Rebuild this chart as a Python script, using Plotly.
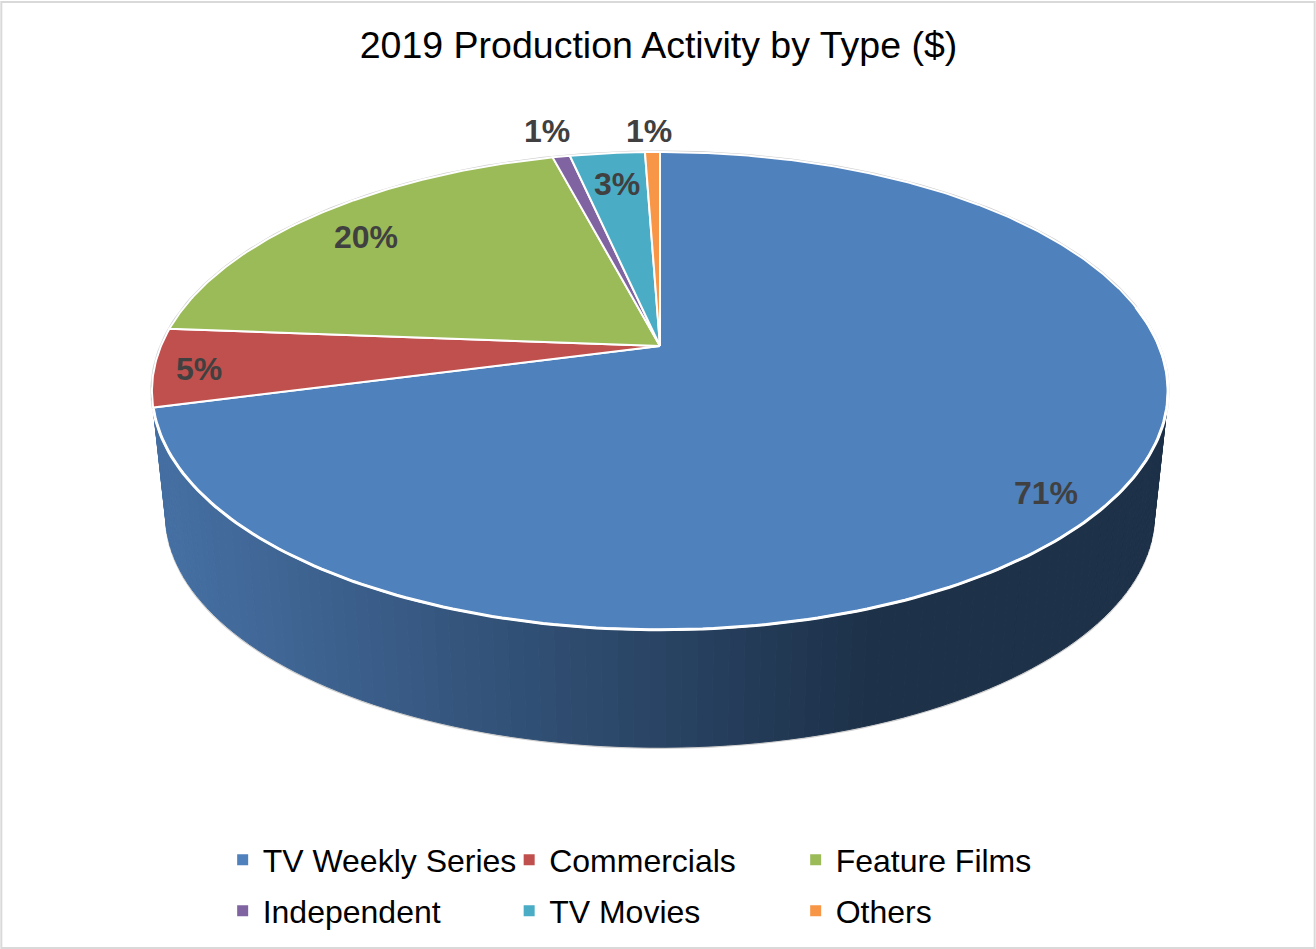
import numpy as np
import plotly.graph_objects as go

# Share of 2019 production spending per type, in percent
categories = ["TV Weekly Series", "Commercials", "Feature Films", "Independent", "TV Movies", "Others"]
shares = [70.9, 5.3, 19.7, 0.66, 2.86, 0.57]
slice_colors = ["#4F81BD", "#C0504D", "#9BBB59", "#8064A2", "#4BACC6", "#F79646"]
title_text = "2019 Production Activity by Type ($)"

# Where each percentage label sits on the canvas
label_x = [1046, 199, 366, 547, 617, 649]
label_y = [493, 369, 237, 131, 184, 131]

# Perspective disc: hub position, horizontal and vertical scale, foreshortening
HUB_X, HUB_Y = 660.0, 346.0
SCALE_X, SCALE_Y, TILT = 499.0, 230.5, 0.188
# Lower rim of the cylinder: shrink factor and downward drop
RIM_SHRINK, RIM_DROP = 0.973, 125.0


def disc(theta_deg, shrink=1.0, drop=0.0):
    """Project clockwise-from-top angles on the disc to canvas coordinates."""
    t = np.radians(np.asarray(theta_deg, dtype=float))
    u, v = np.sin(t), np.cos(t)
    w = 1 + TILT * v
    return HUB_X + shrink * SCALE_X * u / w, HUB_Y - shrink * SCALE_Y * v / w + drop


def wall_color(x):
    """Side wall darkens from left to right, then stays flat."""
    f = np.clip((x - 165.0) / (870.0 - 165.0), 0, 1)
    a, b = np.array([0x45, 0x6F, 0xA2]), np.array([0x1D, 0x31, 0x49])
    r, g, bl = (a + (b - a) * f).round().astype(int)
    return f"rgb({r},{g},{bl})"


fig = go.Figure()

# Thin grey halo around the back of the disc and the bottom of the wall
ring = np.arange(0, 360.5, 1.0)
rx, ry = disc(ring)
fig.add_trace(go.Scatter(x=rx, y=ry, mode="lines", line=dict(color="#CFCFCF", width=3),
                         hoverinfo="skip", showlegend=False))
front = np.arange(60, 300.5, 1.0)
bx, by = disc(front, RIM_SHRINK, RIM_DROP)
fig.add_trace(go.Scatter(x=bx, y=by + 0.8, mode="lines", line=dict(color="#CFCFCF", width=2),
                         hoverinfo="skip", showlegend=False))

# Side wall as narrow strips, each with its own shade
step = 1.5
for a in np.arange(70, 290, step):
    pair = np.array([a, a + step])
    tx, ty = disc(pair)
    lx, ly = disc(pair, RIM_SHRINK, RIM_DROP)
    col = wall_color(tx.mean())
    fig.add_trace(go.Scatter(
        x=[tx[0], tx[1], lx[1], lx[0], tx[0]], y=[ty[0], ty[1], ly[1], ly[0], ty[0]],
        mode="lines", fill="toself", fillcolor=col, line=dict(color=col, width=1),
        hoverinfo="skip", showlegend=False))

# Top face wedges, clockwise from twelve o'clock
total = sum(shares)
edges = np.concatenate([[0], np.cumsum(shares) / total * 360])
for name, val, col, a0, a1 in zip(categories, shares, slice_colors, edges[:-1], edges[1:]):
    arc = np.linspace(a0, a1, max(int((a1 - a0) * 2), 3))
    ax, ay = disc(arc)
    fig.add_trace(go.Scatter(
        x=np.r_[HUB_X, ax, HUB_X], y=np.r_[HUB_Y, ay, HUB_Y],
        mode="lines", fill="toself", fillcolor=col, line=dict(color="#FFFFFF", width=2),
        name=name, text=f"{name}: {val / total:.0%}", hoverinfo="text", showlegend=False))

# Heavier white edge where the top face meets the wall
edge = np.arange(80, edges[1] + 0.5, 1.0)
ex, ey = disc(edge)
fig.add_trace(go.Scatter(x=ex, y=ey, mode="lines", line=dict(color="#FFFFFF", width=3),
                         hoverinfo="skip", showlegend=False))

# Legend entries: square swatches, two separate rows
for i, (name, col) in enumerate(zip(categories, slice_colors)):
    fig.add_trace(go.Scatter(
        x=[None], y=[None], mode="markers", name=name,
        marker=dict(symbol="square", size=11, color=col),
        legend="legend" if i < 3 else "legend2", hoverinfo="skip"))

annotations = [
    dict(x=x, y=y, xref="x", yref="y", text=f"<b>{v / total:.0%}</b>", showarrow=False,
         font=dict(family="Liberation Sans", size=32, color="#404040"))
    for x, y, v in zip(label_x, label_y, shares)
]

legend_style = dict(orientation="h", xanchor="left", yanchor="middle", bgcolor="rgba(0,0,0,0)",
                    font=dict(family="Liberation Sans", size=32, color="#000000"),
                    entrywidth=241.5, entrywidthmode="pixels", itemclick=False, itemdoubleclick=False,
                    borderwidth=0, x=0.1692)

fig.update_layout(
    width=1316, height=949,
    margin=dict(l=0, r=0, t=0, b=0),
    paper_bgcolor="#FFFFFF", plot_bgcolor="#FFFFFF",
    title=dict(text=title_text, x=658.5 / 1316, y=1 - 45 / 949, xanchor="center", yanchor="middle",
               font=dict(family="Liberation Sans", size=37.5, color="#000000")),
    xaxis=dict(range=[0, 1316], visible=False, fixedrange=True),
    yaxis=dict(range=[949, 0], visible=False, fixedrange=True),
    legend=dict(**legend_style, y=1 - 860 / 949),
    legend2=dict(**legend_style, y=1 - 911 / 949),
    annotations=annotations,
    shapes=[dict(type="rect", xref="paper", yref="paper", x0=0.001, y0=0.001, x1=0.999, y1=0.998,
                 line=dict(color="#D9D9D9", width=2), fillcolor="rgba(0,0,0,0)")],
)

fig.write_html("out.html")
